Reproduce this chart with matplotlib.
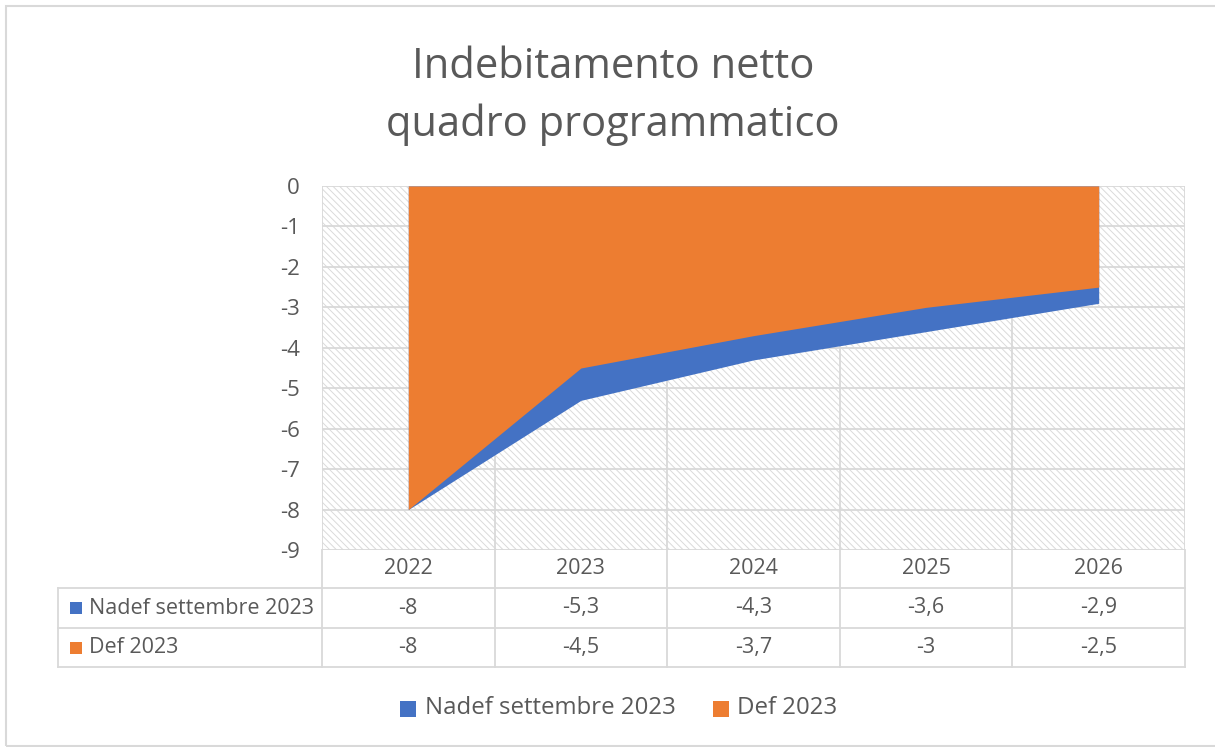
import matplotlib
matplotlib.use("Agg")
import matplotlib.pyplot as plt
import matplotlib.transforms as mtransforms
from matplotlib.patches import Rectangle
from matplotlib.lines import Line2D
import numpy as np

# ---- data ----
years = ["2022", "2023", "2024", "2025", "2026"]
nadef = [-8, -5.3, -4.3, -3.6, -2.9]
def2023 = [-8, -4.5, -3.7, -3, -2.5]
series_names = ["Nadef settembre 2023", "Def 2023"]
title = "Indebitamento netto\nquadro programmatico"
yticks = [0, -1, -2, -3, -4, -5, -6, -7, -8, -9]

BLUE = "#4472C4"
ORANGE = "#ED7D31"
TXT = "#595959"
GRID = "#D9D9D9"
HATCH = "#DADADA"
FONT = "Open Sans"

plt.rcParams["font.family"] = [FONT, "DejaVu Sans"]
plt.rcParams["hatch.color"] = HATCH
plt.rcParams["hatch.linewidth"] = 0.7

W, H = 1215, 747
fig = plt.figure(figsize=(W / 100, H / 100), dpi=100)
fig.patch.set_facecolor("white")

def fx(px):
    return px / W

def fy(py):
    return 1 - py / H

# outer chart border
fig.add_artist(Rectangle((fx(6), fy(746)), fx(1300) - fx(6), fy(6) - fy(746),
                         transform=fig.transFigure, fill=False,
                         edgecolor="#D9D9D9", linewidth=1.5))

L, R, T, B = 322, 1185, 186, 550
ax = fig.add_axes([fx(L), fy(B), fx(R) - fx(L), fy(T) - fy(B)])
ax.set_facecolor("white")
x = np.arange(len(years))
ax.set_xlim(-0.5, len(years) - 0.5)
ax.set_ylim(-9, 0)

# hatched background
ax.add_patch(Rectangle((0, 0), 1, 1, transform=ax.transAxes, facecolor="white",
                       edgecolor=HATCH, linewidth=0, hatch="\\\\\\\\\\", zorder=0))

# grid
for yv in yticks:
    ax.axhline(yv, color=GRID, lw=1.3, zorder=1)
for b in np.arange(-0.5, len(years), 1.0):
    ax.axvline(b, color=GRID, lw=1.3, zorder=1)

ax.fill_between(x, nadef, 0, color=BLUE, lw=0, zorder=2)
ax.fill_between(x, def2023, 0, color=ORANGE, lw=0, zorder=3)

for s in ax.spines.values():
    s.set_visible(False)
ax.set_xticks([])
ax.set_yticks(yticks)
ax.set_yticklabels([str(v) for v in yticks])
ax.tick_params(axis="y", length=0, pad=16, labelsize=16, labelcolor=TXT)

# ---- data table ----
blend = mtransforms.blended_transform_factory(ax.transData, ax.transAxes)
AH = B - T
def ay(py):
    return (B - py) / AH

cw = (R - L) / len(years)
x_left = -0.5 + (58 - L) / cw
x_right = len(years) - 0.5
row_lines = [588, 628, 667]
for py in row_lines:
    ax.add_line(Line2D([x_left, x_right], [ay(py), ay(py)], transform=blend,
                       color=GRID, lw=1.3, clip_on=False))
for b in np.arange(-0.5, len(years), 1.0):
    ax.add_line(Line2D([b, b], [ay(550), ay(667)], transform=blend,
                       color=GRID, lw=1.3, clip_on=False))
ax.add_line(Line2D([x_left, x_left], [ay(588), ay(667)], transform=blend,
                   color=GRID, lw=1.3, clip_on=False))

TFS = 15.5
for i, yr in enumerate(years):
    ax.text(i, ay(569), yr, transform=blend, ha="center", va="center",
            fontsize=TFS, color=TXT, clip_on=False)

def fmt(v):
    return ("%g" % v).replace(".", ",")

rows = [(series_names[0], nadef, BLUE, 608), (series_names[1], def2023, ORANGE, 647.5)]
for name, vals, col, py in rows:
    ax.add_line(Line2D([x_left + 18 / cw], [ay(py)], transform=blend, marker="s",
                       markersize=8.6, color=col, markeredgewidth=0, clip_on=False))
    ax.text(x_left + 31 / cw, ay(py), name, transform=blend, ha="left",
            va="center", fontsize=TFS, color=TXT, clip_on=False)
    for i, v in enumerate(vals):
        ax.text(i, ay(py), fmt(v), transform=blend, ha="center", va="center",
                fontsize=TFS, color=TXT, clip_on=False)

# ---- title ----
fig.text(fx(613), fy(96), title, ha="center", va="center", fontsize=30,
         color=TXT, linespacing=1.5)

# ---- legend ----
LFS = 17.3
fig.add_artist(Line2D([fx(408)], [fy(709)], transform=fig.transFigure, marker="s",
                      markersize=11.3, color=BLUE, markeredgewidth=0))
fig.text(fx(425), fy(708), series_names[0], ha="left", va="center",
         fontsize=LFS, color=TXT)
fig.add_artist(Line2D([fx(721)], [fy(709)], transform=fig.transFigure, marker="s",
                      markersize=11.3, color=ORANGE, markeredgewidth=0))
fig.text(fx(737), fy(708), series_names[1], ha="left", va="center",
         fontsize=LFS, color=TXT)

fig.savefig("out.png", dpi=100, facecolor="white")
